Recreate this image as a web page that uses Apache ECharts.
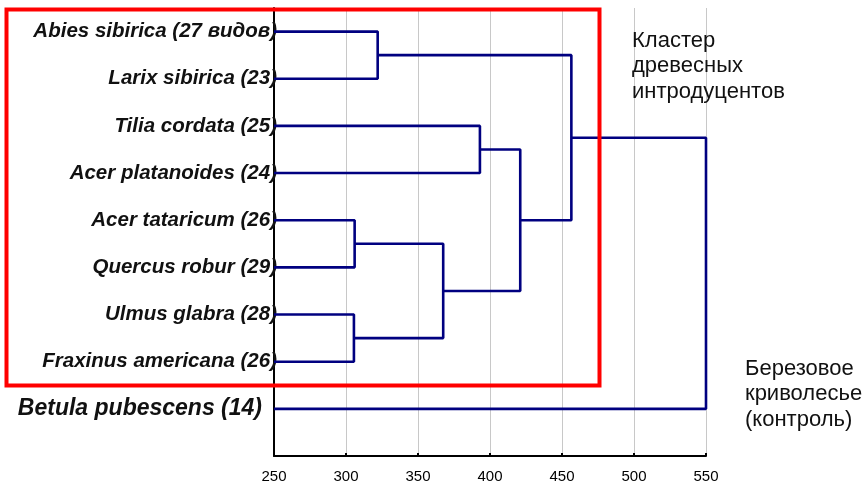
<!DOCTYPE html>
<html>
<head>
<meta charset="utf-8">
<script src="https://cdn.jsdelivr.net/npm/echarts@6/dist/echarts.min.js"></script>
<style>
  html, body { margin: 0; padding: 0; background: #fff; }
  #chart { width: 863px; height: 484px; }
</style>
</head>
<body>
<div id="chart"></div>
<script>
// leaves, top to bottom
const leaves = [
  'Abies sibirica (27 видов)',
  'Larix sibirica (23)',
  'Tilia cordata (25)',
  'Acer platanoides (24)',
  'Acer tataricum (26)',
  'Quercus robur (29)',
  'Ulmus glabra (28)',
  'Fraxinus americana (26)',
  'Betula pubescens (14)'
];
// joins: [node a, node b, linkage distance]; new nodes are numbered after the leaves
const joins = [
  [0, 1, 322],
  [2, 3, 393],
  [4, 5, 306],
  [6, 7, 305.5],
  [11, 12, 367.5],
  [10, 13, 421],
  [9, 14, 456.5],
  [15, 8, 550]
];
const xTicks = [250, 300, 350, 400, 450, 500, 550];

const nodeX = leaves.map(() => 250);
const nodeY = leaves.map((_, i) => i);
const series = [];
joins.forEach(([a, b, h]) => {
  series.push({
    type: 'line',
    symbol: 'none',
    clip: false,
    animation: false,
    lineStyle: { color: '#000080', width: 2.6 },
    data: [[nodeX[a], nodeY[a]], [h, nodeY[a]], [h, nodeY[b]], [nodeX[b], nodeY[b]]]
  });
  nodeX.push(h);
  nodeY.push((nodeY[a] + nodeY[b]) / 2);
});

const chart = echarts.init(document.getElementById('chart'));
chart.setOption({
  backgroundColor: '#fff',
  animation: false,
  grid: { left: 274, right: 157, top: 8, bottom: 27 },
  xAxis: {
    type: 'value',
    position: 'bottom',
    min: xTicks[0],
    max: xTicks[xTicks.length - 1],
    interval: 50,
    axisLine: { onZero: false, lineStyle: { color: '#000', width: 2 } },
    axisTick: { show: true, inside: true, length: 3, lineStyle: { color: '#000', width: 2 } },
    axisLabel: { color: '#000', fontSize: 15, fontFamily: 'Liberation Sans', margin: 13 },
    splitLine: { show: true, lineStyle: { color: '#c8c8c8', width: 1 } }
  },
  yAxis: {
    type: 'value',
    inverse: true,
    min: -0.5,
    max: 9,
    axisLine: { show: true, onZero: false, lineStyle: { color: '#000', width: 2 } },
    axisTick: { show: false },
    splitLine: { show: false },
    axisLabel: {
      customValues: leaves.map((_, i) => i),
      margin: -3,
      color: '#111',
      fontFamily: 'Liberation Sans',
      fontSize: 20.5,
      fontWeight: 'bold',
      fontStyle: 'italic',
      formatter: v => v === leaves.length - 1 ? '{b|' + leaves[v] + '}' : leaves[v],
      rich: {
        b: {
          fontFamily: 'Liberation Sans', fontSize: 23, fontWeight: 'bold',
          fontStyle: 'italic', color: '#111', padding: [0, 15, 0, 0]
        }
      }
    }
  },
  series: series,
  graphic: [
    {
      type: 'rect', z: 100,
      shape: { x: 6.5, y: 9.5, width: 593, height: 376 },
      style: { fill: 'none', stroke: '#ff0000', lineWidth: 4 }
    },
    {
      type: 'text', left: 632, top: 28, z: 100,
      style: {
        text: 'Кластер\nдревесных\nинтродуцентов',
        font: '22px "Liberation Sans"', fill: '#111', lineHeight: 25.5
      }
    },
    {
      type: 'text', left: 745, top: 356, z: 100,
      style: {
        text: 'Березовое\nкриволесье\n(контроль)',
        font: '22px "Liberation Sans"', fill: '#111', lineHeight: 25.5
      }
    }
  ]
});
</script>
</body>
</html>
